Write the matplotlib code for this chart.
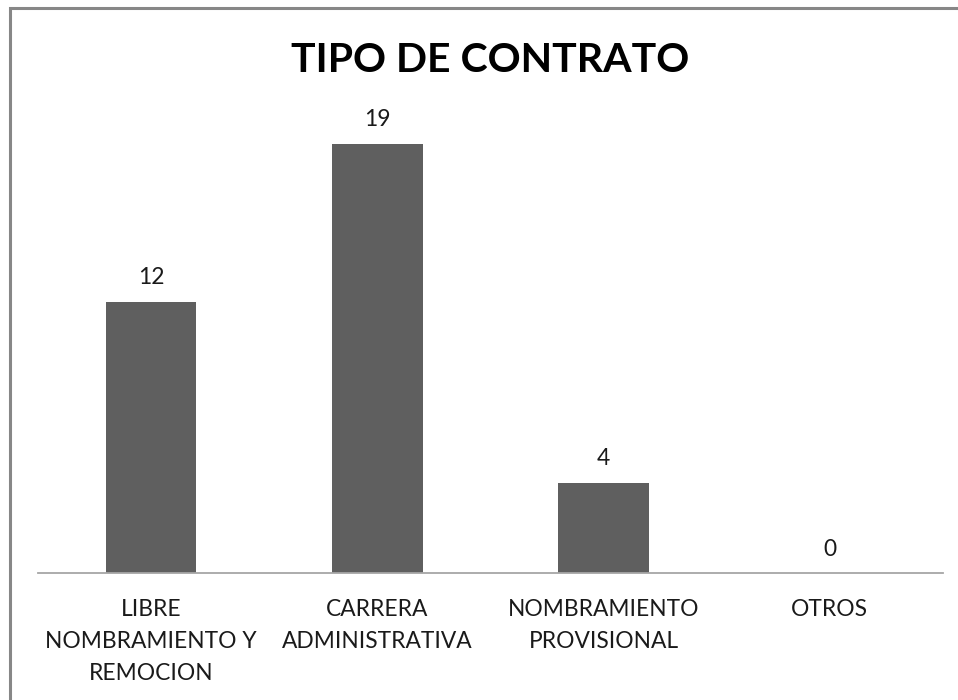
import matplotlib.pyplot as plt
from matplotlib.patches import Rectangle

categorias = ['LIBRE\nNOMBRAMIENTO Y\nREMOCION', 'CARRERA\nADMINISTRATIVA',
              'NOMBRAMIENTO\nPROVISIONAL', 'OTROS']
valores = [12, 19, 4, 0]

plt.rcParams['font.family'] = ['Lato', 'DejaVu Sans']

fig = plt.figure(figsize=(9.58, 7.0), dpi=100)
# chart frame (cut off at right and bottom, as in the screenshot)
fig.patches.append(Rectangle((10 / 958, -0.05), 1.1, (700 - 8) / 700 + 0.05,
                             transform=fig.transFigure, fill=False,
                             edgecolor='#878787', linewidth=2.2))

ax = fig.add_axes([38 / 958, 127 / 700, 905 / 958, 452 / 700])
x = range(len(valores))
ax.bar(x, valores, width=0.4, color='#5f5f5f')
for xi, v in zip(x, valores):
    ax.annotate(str(v), (xi, v), xytext=(0, 24), textcoords='offset pixels',
                ha='center', va='center', fontsize=16.4, color='#1a1a1a')

ax.set_xlim(-0.5, 3.5)
ax.set_ylim(0, 20)
ax.set_xticks(list(x))
ax.set_xticklabels(categorias, fontsize=16.4, color='#1a1a1a', linespacing=1.63)
ax.tick_params(axis='x', length=0, pad=19)
ax.set_yticks([])
for s in ['top', 'right', 'left']:
    ax.spines[s].set_visible(False)
ax.spines['bottom'].set_color('#a6a6a6')
ax.spines['bottom'].set_linewidth(1.3)

fig.text(490 / 958, 1 - 61 / 700, 'TIPO DE CONTRATO', ha='center', va='center',
         fontsize=29.5, fontweight='bold', color='black')

fig.savefig('out.png', dpi=100)
